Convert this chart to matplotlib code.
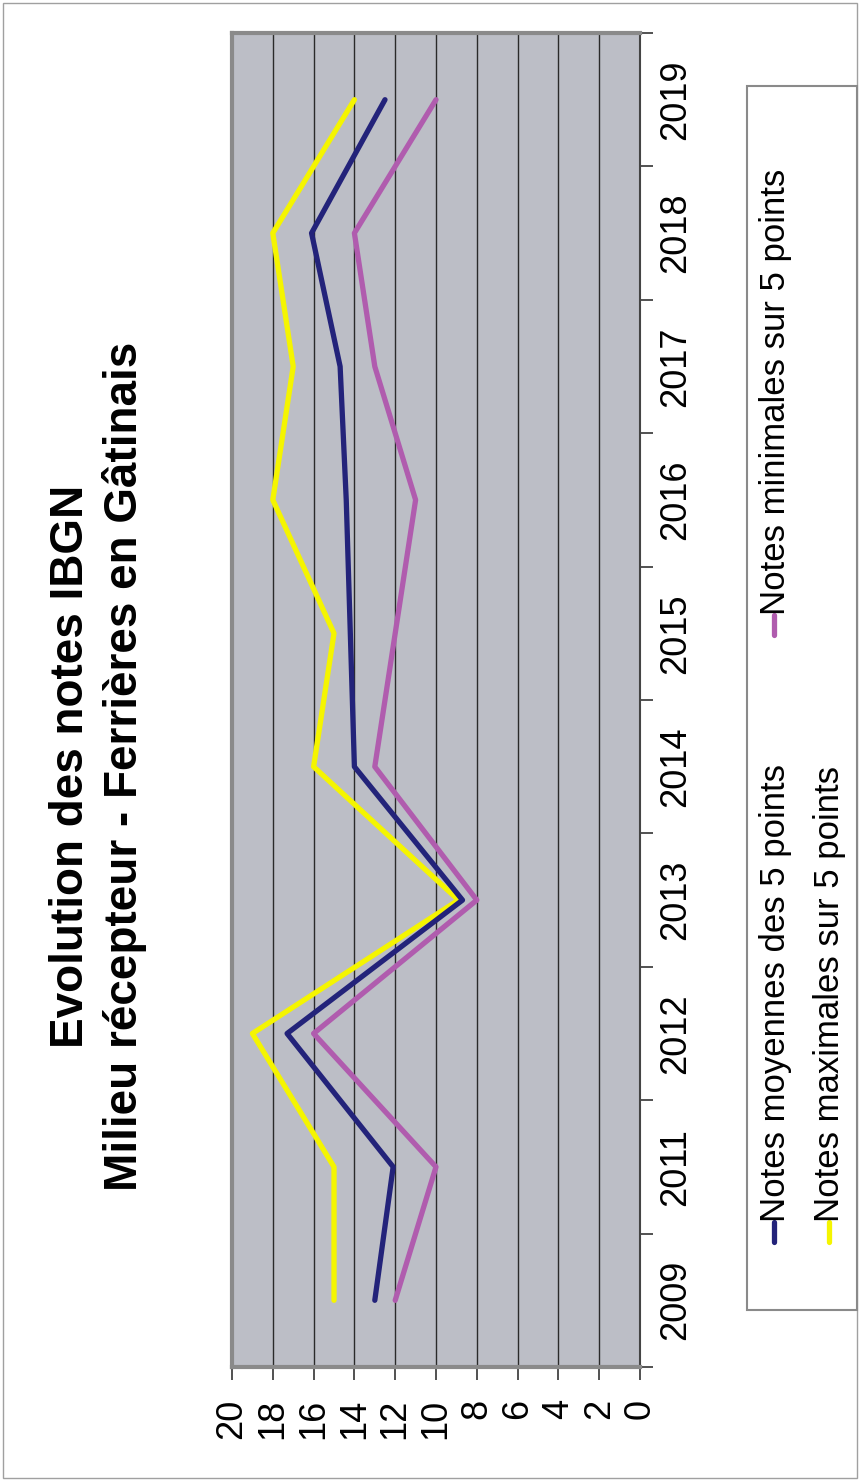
import matplotlib
matplotlib.use("Agg")
import matplotlib.pyplot as plt
from matplotlib.lines import Line2D
from matplotlib.patches import Rectangle

# Données
annees = ["2009", "2011", "2012", "2013", "2014", "2015", "2016", "2017", "2018", "2019"]
notes_moyennes = [13.0, 12.1, 17.3, 8.7, 14.0, 14.2, 14.4, 14.7, 16.1, 12.5]
notes_maximales = [15.0, 15.0, 19.0, 8.9, 16.0, 15.0, 18.0, 17.0, 18.0, 14.0]
notes_minimales = [12.0, 10.0, 16.0, 8.0, 13.0, 12.0, 11.0, 13.0, 14.0, 10.0]
valeurs_axe = list(range(0, 21, 2))

titre_1 = "Evolution des notes IBGN"
titre_2 = "Milieu récepteur - Ferrières en Gâtinais"
lbl_moy = "Notes moyennes des 5 points"
lbl_max = "Notes maximales sur 5 points"
lbl_min = "Notes minimales sur 5 points"

COL_MOY = "#23237a"
COL_MAX = "#f5f500"
COL_MIN = "#b05cae"

W, H = 860, 1481
plt.rcParams["font.family"] = ["Liberation Sans", "DejaVu Sans"]


def fx(px):
    return px / W


def fy(py):
    return 1 - py / H


fig = plt.figure(figsize=(W / 100, H / 100), dpi=100)
fig.patch.set_facecolor("white")
fig.add_artist(Rectangle((fx(3), fy(1478)), fx(854), 1 - 6 / H, transform=fig.transFigure,
                         fill=False, edgecolor="#a0a0a0", linewidth=1))

# graphique tourné de 90° : valeurs en x (20 à gauche), années en y
ax = fig.add_axes([fx(232), fy(1367), fx(640) - fx(232), fy(33) - fy(1367)])
ax.set_facecolor("#bcbec6")
pos = list(range(len(annees)))

ax.plot(notes_maximales, pos, color=COL_MAX, linewidth=3.8, solid_capstyle="round", zorder=3)
ax.plot(notes_moyennes, pos, color=COL_MOY, linewidth=3.8, solid_capstyle="round", zorder=4)
ax.plot(notes_minimales, pos, color=COL_MIN, linewidth=3.8, solid_capstyle="round", zorder=2)

ax.set_xlim(20, 0)
ax.set_ylim(-0.5, len(annees) - 0.5)

ax.set_xticks(valeurs_axe)
ax.set_xticklabels([str(v) for v in valeurs_axe], rotation=90, fontsize=26)
ax.tick_params(axis="x", direction="out", length=9, width=1.2, color="#333333", pad=14)
ax.grid(axis="x", color="#2a2a2a", linewidth=1)
ax.set_axisbelow(True)

ax.yaxis.tick_right()
ax.set_yticks(pos)
ax.set_yticklabels(annees, rotation=90, fontsize=26, va="center")
ax.set_yticks([p + 0.5 for p in pos[:-1]] + [-0.5, len(annees) - 0.5], minor=True)
ax.tick_params(axis="y", which="major", length=0, pad=13)
ax.tick_params(axis="y", which="minor", direction="out", length=9, width=1.2, color="#333333")

for side in ["left", "top", "bottom"]:
    ax.spines[side].set_color("#8a8a8a")
    ax.spines[side].set_linewidth(3)
ax.spines["right"].set_color("#444444")
ax.spines["right"].set_linewidth(1.5)

# titre
fig.text(fx(83), fy(766), titre_1, rotation=90, rotation_mode="anchor", ha="center",
         va="baseline", fontsize=33, fontweight="bold")
fig.text(fx(137), fy(766), titre_2, rotation=90, rotation_mode="anchor", ha="center",
         va="baseline", fontsize=33, fontweight="bold")

# légende
fig.add_artist(Rectangle((fx(747), fy(1310)), fx(857) - fx(747), fy(86) - fy(1310),
                         transform=fig.transFigure, facecolor="white",
                         edgecolor="#8a8a8a", linewidth=1.5))
entrees = [
    (774, 1242, COL_MOY, lbl_moy),
    (829, 1242, COL_MAX, lbl_max),
    (774, 635, COL_MIN, lbl_min),
]
for x, y0, col, lbl in entrees:
    fig.add_artist(Line2D([fx(x), fx(x)], [fy(y0), fy(y0 - 20)], transform=fig.transFigure,
                          color=col, linewidth=3.8, solid_capstyle="round"))
    fig.text(fx(x + 1), fy(y0 - 20), lbl, rotation=90, rotation_mode="anchor", ha="left",
             va="center", fontsize=25)

fig.savefig("out.png", dpi=100)
